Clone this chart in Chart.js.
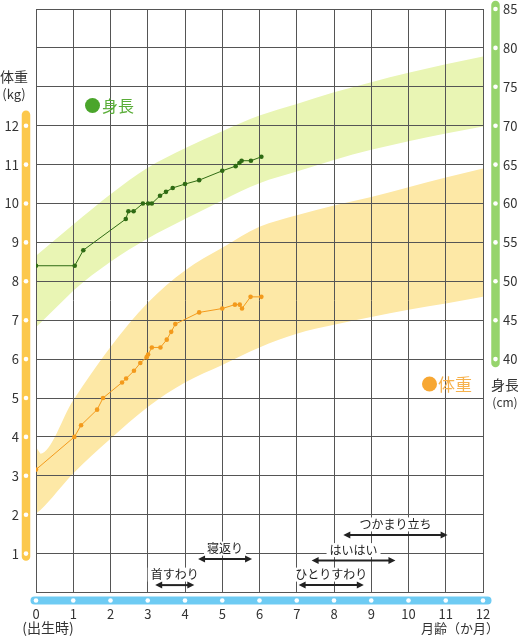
<!DOCTYPE html>
<html><head><meta charset="utf-8">
<script src="https://cdn.jsdelivr.net/npm/chart.js@4.4.1/dist/chart.umd.min.js"></script>
<style>
html,body{margin:0;padding:0;background:#fff;}
#wrap{width:518px;height:640px;position:relative;}
canvas{display:block;background:#fff;}
</style>
</head><body>
<div id="wrap"><canvas id="c" width="518" height="640"></canvas></div>
<script>
// ---- data ----
const monthTicks = [0,1,2,3,4,5,6,7,8,9,10,11,12];
const weightTickLabels = [1,2,3,4,5,6,7,8,9,10,11,12];
const heightTickLabels = [40,45,50,55,60,65,70,75,80,85];

const heightBandMonths = [0,1,2,3,4,5,6,7,8,9,10,11,12];
const heightBandUpper = [53.3,57.3,61.2,64.6,67.1,69.3,71.3,72.8,74.3,75.6,76.8,77.9,78.9];
const heightBandLower = [44.1,48.8,52.5,55.5,58.0,60.4,62.6,64.1,65.6,66.9,68.0,69.0,69.9];

const weightBandMonths = [0,0.12,1,2,3,4,5,6,7,8,9,10,11,12];
const weightBandUpper = [3.74,3.57,4.94,6.31,7.45,8.28,8.86,9.4,9.7,9.95,10.17,10.42,10.67,10.9];
const weightBandLower = [2.03,2.12,3.06,3.95,4.77,5.4,5.85,6.3,6.65,6.88,7.08,7.27,7.43,7.6];

const heightMonths = [0,1.04,1.27,2.41,2.48,2.62,2.87,3.01,3.11,3.33,3.49,3.67,4.0,4.38,5.0,5.36,5.46,5.52,5.77,6.05];
const heightValues = [52.0,52.0,54.0,58.0,59.0,59.0,60.0,60.0,60.0,61.0,61.5,62.0,62.5,63.0,64.2,64.8,65.2,65.5,65.5,66.0];

const weightMonths = [0,1.03,1.21,1.64,1.8,2.31,2.42,2.63,2.8,2.97,3.01,3.11,3.34,3.51,3.63,3.74,4.38,5.0,5.34,5.47,5.53,5.76,6.05];
const weightValues = [3.16,4.0,4.3,4.7,5.0,5.4,5.5,5.7,5.9,6.05,6.12,6.3,6.3,6.5,6.7,6.9,7.2,7.3,7.4,7.4,7.3,7.6,7.6];

const milestoneNames = ['首すわり','寝返り','ひとりすわり','はいはい','つかまり立ち'];
const milestoneStart = [3.2,4.35,7.05,7.4,8.25];
const milestoneEnd = [4.25,5.8,8.8,9.65,11.05];
const milestoneLevel = [0.19,0.86,0.19,0.82,1.48];

// ---- helpers ----
const pts = (xs, ys) => xs.map((v, i) => ({x: v, y: ys[i]}));
const FONT = "'Noto Sans CJK JP', 'Noto Sans', sans-serif";
Chart.defaults.font.family = FONT;

function roundBar(ctx, x1, y1, x2, y2, w, color) {
  ctx.save();
  ctx.strokeStyle = color; ctx.lineWidth = w; ctx.lineCap = 'round';
  ctx.beginPath(); ctx.moveTo(x1, y1); ctx.lineTo(x2, y2); ctx.stroke();
  ctx.restore();
}
function whiteDot(ctx, x, y) {
  ctx.beginPath(); ctx.arc(x, y, 2.3, 0, Math.PI * 2);
  ctx.fillStyle = '#fff'; ctx.fill();
}
function text(ctx, s, x, y, size, color, align) {
  ctx.save();
  ctx.font = size + 'px ' + FONT;
  ctx.fillStyle = color; ctx.textAlign = align || 'center'; ctx.textBaseline = 'middle';
  ctx.fillText(s, x, y);
  ctx.restore();
}
function arrowHead(ctx, x, y, dir) {
  ctx.beginPath();
  ctx.moveTo(x, y);
  ctx.lineTo(x - dir * 7, y - 3.5);
  ctx.lineTo(x - dir * 7, y + 3.5);
  ctx.closePath(); ctx.fill();
}
function hasCp(p) { return isFinite(p.cp1x) && isFinite(p.cp2x) && isFinite(p.cp1y) && isFinite(p.cp2y); }
function trace(ctx, points, reverse, first) {
  const seq = reverse ? points.slice().reverse() : points;
  seq.forEach((p, i) => {
    if (i === 0) { if (first) ctx.moveTo(p.x, p.y); else ctx.lineTo(p.x, p.y); return; }
    const q = seq[i - 1];
    if (hasCp(p) && hasCp(q)) {
      if (!reverse) ctx.bezierCurveTo(q.cp2x, q.cp2y, p.cp1x, p.cp1y, p.x, p.y);
      else ctx.bezierCurveTo(q.cp1x, q.cp1y, p.cp2x, p.cp2y, p.x, p.y);
    } else ctx.lineTo(p.x, p.y);
  });
}

// bands drawn under the grid, from the band datasets' own points
const bands = {
  id: 'bands',
  beforeDraw(chart) {
    const ctx = chart.ctx, area = chart.chartArea;
    [[0, 1, '#e9f5b4'], [2, 3, '#fde8a6']].forEach(([u, l, color]) => {
      const up = chart.getDatasetMeta(u), lo = chart.getDatasetMeta(l);
      if (up.dataset && up.dataset.updateControlPoints) up.dataset.updateControlPoints(area, 'x');
      if (lo.dataset && lo.dataset.updateControlPoints) lo.dataset.updateControlPoints(area, 'x');
      ctx.save();
      ctx.beginPath(); ctx.rect(area.left, area.top, area.right - area.left, area.bottom - area.top); ctx.clip();
      ctx.beginPath();
      trace(ctx, up.data, false, true);
      trace(ctx, lo.data, true, false);
      ctx.closePath();
      ctx.fillStyle = color; ctx.fill();
      ctx.restore();
    });
  }
};

const decor = {
  id: 'decor',
  afterDraw(chart) {
    const ctx = chart.ctx;
    const xs = chart.scales.x, ys = chart.scales.y, hs = chart.scales.yH;
    // left weight bar
    roundBar(ctx, 26, ys.getPixelForValue(12) - 11, 26, ys.getPixelForValue(1) + 3, 8.5, '#fcc84c');
    weightTickLabels.forEach(v => whiteDot(ctx, 26, ys.getPixelForValue(v)));
    // right height bar
    roundBar(ctx, 495.5, hs.getPixelForValue(85) - 4, 495.5, hs.getPixelForValue(40) + 4, 8.5, '#96d46c');
    heightTickLabels.forEach(v => whiteDot(ctx, 495.5, hs.getPixelForValue(v)));
    // bottom month bar
    roundBar(ctx, xs.getPixelForValue(0) - 1.5, 600.5, xs.getPixelForValue(12) + 4.5, 600.5, 8, '#6ecbf3');
    monthTicks.forEach(v => whiteDot(ctx, xs.getPixelForValue(v), 600.5));

    // axis titles
    text(ctx, '体重', 14, 77, 14, '#333');
    text(ctx, '(kg)', 14, 94, 13, '#333');
    text(ctx, '身長', 505, 385, 14, '#333');
    text(ctx, '(cm)', 505, 402, 12, '#333');
    text(ctx, '(出生時)', 48, 628, 14, '#333');
    text(ctx, '月齢（か月）', 460, 628, 13, '#333');

    // legend labels
    ctx.beginPath(); ctx.arc(92.5, 105.5, 7.5, 0, Math.PI * 2); ctx.fillStyle = '#4aa52b'; ctx.fill();
    text(ctx, '身長', 102, 106, 16, '#5aad38', 'left');
    ctx.beginPath(); ctx.arc(429.5, 384, 7.5, 0, Math.PI * 2); ctx.fillStyle = '#f7a733'; ctx.fill();
    text(ctx, '体重', 438, 384.5, 17, '#f6b24e', 'left');

    // milestones
    ctx.save();
    ctx.font = '12px ' + FONT;
    milestoneNames.forEach((name, i) => {
      const x1 = xs.getPixelForValue(milestoneStart[i]);
      const x2 = xs.getPixelForValue(milestoneEnd[i]);
      const yy = ys.getPixelForValue(milestoneLevel[i]);
      const cx = (x1 + x2) / 2, ty = yy - 10.5;
      const w = ctx.measureText(name).width;
      ctx.fillStyle = '#fff';
      ctx.fillRect(cx - w / 2 - 3, ty - 7, w + 6, 14);
      ctx.fillStyle = '#222'; ctx.textAlign = 'center'; ctx.textBaseline = 'middle';
      ctx.fillText(name, cx, ty);
      ctx.strokeStyle = '#222'; ctx.lineWidth = 2;
      ctx.beginPath(); ctx.moveTo(x1 + 4, yy); ctx.lineTo(x2 - 4, yy); ctx.stroke();
      arrowHead(ctx, x1, yy, -1);
      arrowHead(ctx, x2, yy, 1);
    });
    ctx.restore();
  }
};

const bandStyle = {borderWidth: 0, borderColor: 'rgba(0,0,0,0)', backgroundColor: 'rgba(0,0,0,0)', pointRadius: 0, pointHoverRadius: 0, fill: false, cubicInterpolationMode: 'monotone'};
const gridColor = '#555';
const noPad = s => { s.paddingTop = 0; s.paddingBottom = 0; s.paddingLeft = 0; s.paddingRight = 0; };

new Chart(document.getElementById('c'), {
  type: 'line',
  data: {
    datasets: [
      Object.assign({data: pts(heightBandMonths, heightBandUpper), yAxisID: 'yH'}, bandStyle),
      Object.assign({data: pts(heightBandMonths, heightBandLower), yAxisID: 'yH'}, bandStyle),
      Object.assign({data: pts(weightBandMonths, weightBandUpper), yAxisID: 'y'}, bandStyle),
      Object.assign({data: pts(weightBandMonths, weightBandLower), yAxisID: 'y'}, bandStyle),
      {label: '身長', data: pts(heightMonths, heightValues), yAxisID: 'yH', borderColor: '#2f6b14', backgroundColor: '#2f6b14', borderWidth: 1, pointRadius: 2.3, pointBorderWidth: 0, tension: 0, fill: false},
      {label: '体重', data: pts(weightMonths, weightValues), yAxisID: 'y', borderColor: '#f39a1c', backgroundColor: '#f39a1c', borderWidth: 1, pointRadius: 2.3, pointBorderWidth: 0, tension: 0, fill: false}
    ]
  },
  options: {
    responsive: false,
    animation: false,
    layout: {padding: {top: 9, left: 0, right: 0, bottom: 0}},
    plugins: {legend: {display: false}, tooltip: {enabled: false}},
    scales: {
      x: {
        type: 'linear', min: 0, max: 12,
        afterFit: s => { s.height = 47.5; noPad(s); },
        ticks: {stepSize: 1, autoSkip: false, padding: 14, color: '#333', font: {size: 13}},
        grid: {color: gridColor, lineWidth: 1, drawTicks: false},
        border: {color: gridColor}
      },
      y: {
        position: 'left', min: 0, max: 15,
        afterFit: s => { s.width = 36; noPad(s); },
        ticks: {stepSize: 1, autoSkip: false, padding: 17, color: '#333', font: {size: 13},
          callback: v => (weightTickLabels.includes(v) ? String(v) : '')},
        grid: {color: gridColor, lineWidth: 1, drawTicks: false},
        border: {color: gridColor}
      },
      yH: {
        position: 'right', min: 10, max: 85,
        afterFit: s => { s.width = 35; noPad(s); },
        ticks: {stepSize: 5, autoSkip: false, padding: 20, color: '#333', font: {size: 13},
          callback: v => (heightTickLabels.includes(v) ? String(v) : '')},
        grid: {drawOnChartArea: false, drawTicks: false},
        border: {color: gridColor}
      }
    }
  },
  plugins: [bands, decor]
});
</script>
</body></html>
